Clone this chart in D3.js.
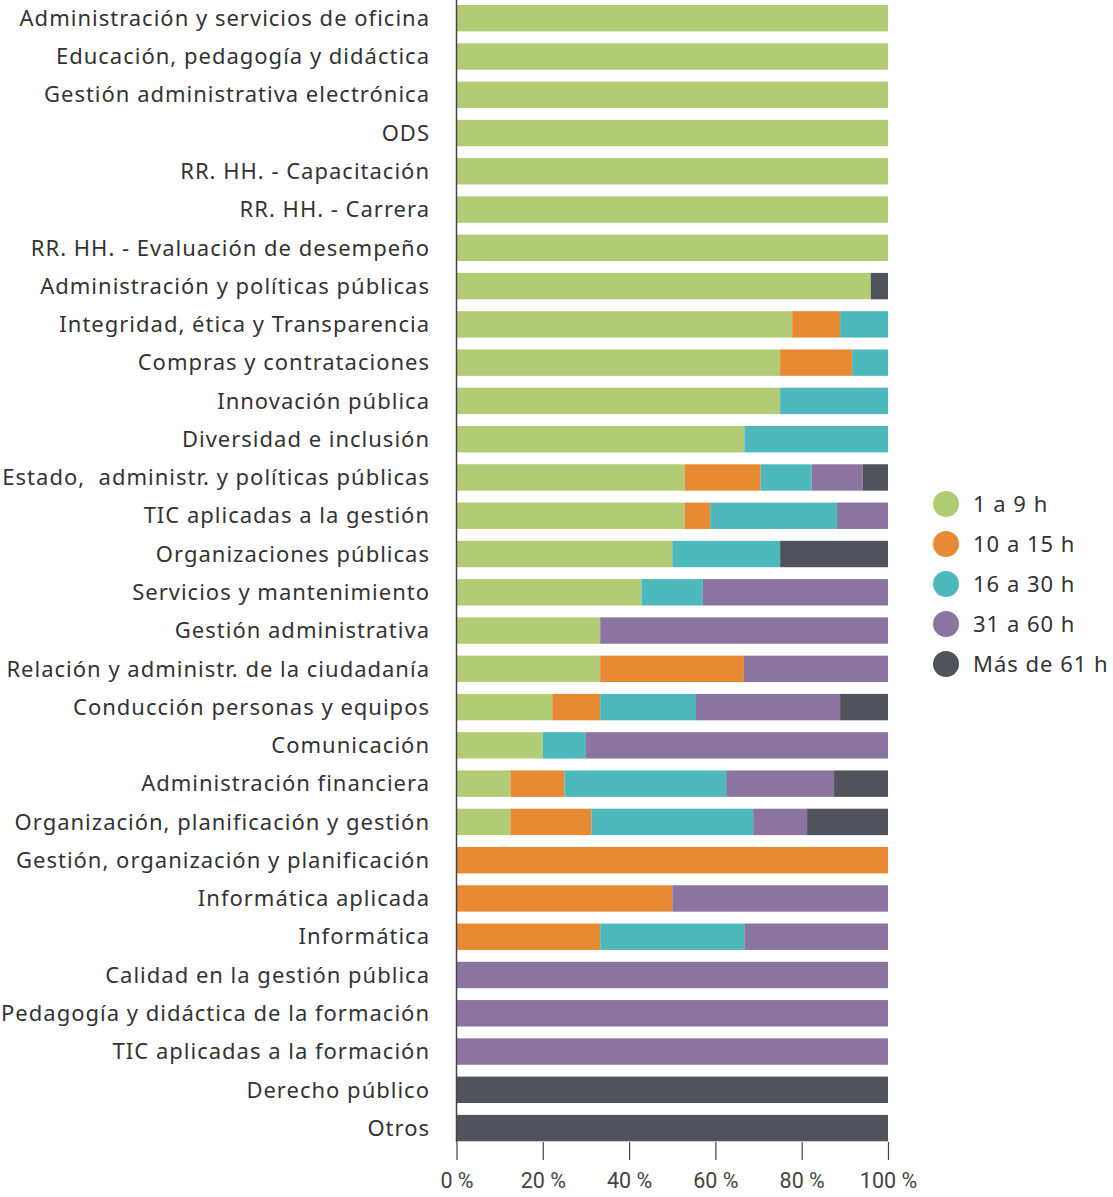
<!DOCTYPE html>
<html><head><meta charset="utf-8">
<script src="https://cdn.jsdelivr.net/npm/d3@7"></script>
<style>html,body{margin:0;padding:0;background:#fff;}</style>
</head><body>
<svg id="chart" width="1113" height="1197"></svg>
<script>
const categories = [
 "Administración y servicios de oficina","Educación, pedagogía y didáctica","Gestión administrativa electrónica","ODS",
 "RR. HH. - Capacitación","RR. HH. - Carrera","RR. HH. - Evaluación de desempeño","Administración y políticas públicas",
 "Integridad, ética y Transparencia","Compras y contrataciones","Innovación pública","Diversidad e inclusión",
 "Estado,  administr. y políticas públicas","TIC aplicadas a la gestión","Organizaciones públicas","Servicios y mantenimiento",
 "Gestión administrativa","Relación y administr. de la ciudadanía","Conducción personas y equipos","Comunicación",
 "Administración financiera","Organización, planificación y gestión","Gestión, organización y planificación","Informática aplicada",
 "Informática","Calidad en la gestión pública","Pedagogía y didáctica de la formación","TIC aplicadas a la formación",
 "Derecho público","Otros"];
const seriesNames = ["1 a 9 h","10 a 15 h","16 a 30 h","31 a 60 h","Más de 61 h"];
const s1a9   = [100,100,100,100,100,100,100,96,77.8,75,75,66.7,52.9,52.9,50,42.9,33.3,33.3,22.2,20,12.5,12.5,0,0,0,0,0,0,0,0];
const s10a15 = [0,0,0,0,0,0,0,0,11.1,16.7,0,0,17.6,5.9,0,0,0,33.3,11.1,0,12.5,18.75,100,50,33.3,0,0,0,0,0];
const s16a30 = [0,0,0,0,0,0,0,0,11.1,8.3,25,33.3,11.8,29.4,25,14.2,0,0,22.2,10,37.5,37.5,0,0,33.4,0,0,0,0,0];
const s31a60 = [0,0,0,0,0,0,0,0,0,0,0,0,11.8,11.8,0,42.9,66.7,33.4,33.4,70,25,12.5,0,50,33.3,100,100,100,0,0];
const sMas61 = [0,0,0,0,0,0,0,4,0,0,0,0,5.9,0,25,0,0,0,11.1,0,12.5,18.75,0,0,0,0,0,0,100,100];
const tickValues = [0,20,40,60,80,100];
const colors = ["#b2cb75","#e88a34","#4eb9bd","#8b749f","#50535b"];

const seriesArrays = [s1a9,s10a15,s16a30,s31a60,sMas61];
const rows = categories.map((c,i)=>{const o={cat:c}; seriesNames.forEach((s,j)=>o[s]=seriesArrays[j][i]); return o;});
const stacked = d3.stack().keys(seriesNames)(rows);

const svg = d3.select("#chart");
const x = d3.scaleLinear().domain([0,100]).range([456.5,888]);
const y = d3.scaleBand().domain(categories).range([5,1141.3]).paddingInner(0.31).paddingOuter(0);
const color = d3.scaleOrdinal().domain(seriesNames).range(colors);
const FONT = "'Noto Sans', 'Open Sans', sans-serif";

svg.append("g").selectAll("g").data(stacked).join("g")
  .attr("fill", d=>color(d.key))
  .selectAll("rect").data(d=>d).join("rect")
  .attr("x", d=>x(d[0])).attr("width", d=>Math.max(0,x(d[1])-x(d[0])))
  .attr("y", d=>y(d.data.cat)).attr("height", y.bandwidth());

// y axis line
svg.append("line").attr("x1",456.5).attr("x2",456.5).attr("y1",0).attr("y2",1142)
  .attr("stroke","#444").attr("stroke-width",1.5);

// category labels
svg.append("g").selectAll("text").data(categories).join("text")
  .attr("x",430).attr("y",d=>y(d)+y.bandwidth()/2).attr("dy","0.35em")
  .attr("text-anchor","end").attr("font-family",FONT).attr("letter-spacing",1)
  .attr("font-size",22).attr("fill","#333").style("white-space","pre").text(d=>d);

// x axis
const xAxis = svg.append("g").attr("transform","translate(0,1142)")
  .call(d3.axisBottom(x).tickValues(tickValues).tickSize(18).tickFormat(d=>d+" %"));
xAxis.select(".domain").remove();
xAxis.selectAll(".tick line").attr("stroke","#444").attr("stroke-width",1.2);
xAxis.selectAll(".tick text").attr("font-family","Roboto, sans-serif").attr("font-size",21.5)
  .attr("fill","#444").attr("y",31);

// legend
const lg = svg.append("g").selectAll("g").data(seriesNames).join("g")
  .attr("transform",(d,i)=>`translate(946,${504+i*40})`);
lg.append("circle").attr("r",13).attr("fill",d=>color(d));
lg.append("text").attr("x",27).attr("dy","0.35em").attr("font-family",FONT).attr("letter-spacing",1)
  .attr("font-size",22).attr("fill","#333").text(d=>d);
</script>
</body></html>
